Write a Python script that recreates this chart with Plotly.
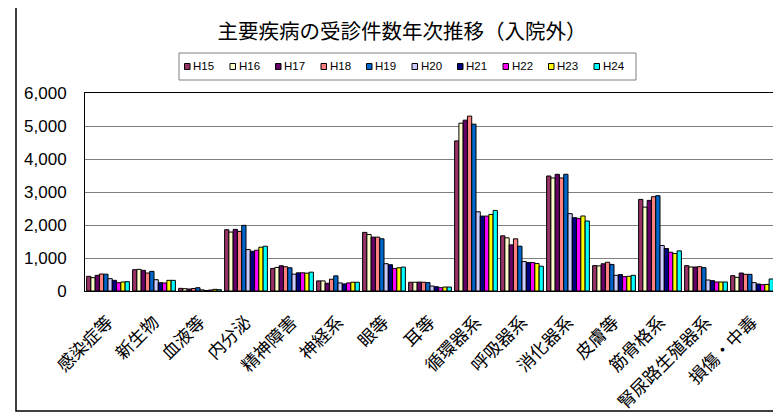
import plotly.graph_objects as go

categories = ["感染症等", "新生物", "血液等", "内分泌", "精神障害", "神経系", "眼等", "耳等",
              "循環器系", "呼吸器系", "消化器系", "皮膚等", "筋骨格系", "腎尿路生殖器系", "損傷・中毒"]

series_names = ["H15", "H16", "H17", "H18", "H19", "H20", "H21", "H22", "H23", "H24"]
series_colors = ["#993366", "#FFFFCC", "#660066", "#FF8080", "#0066CC",
                 "#CCCCFF", "#000080", "#FF00FF", "#FFFF00", "#00FFFF"]

H15 = [444, 646, 80, 1857, 684, 306, 1776, 265, 4549, 1672, 3485, 768, 2776, 768, 465]
H16 = [404, 656, 70, 1786, 714, 306, 1714, 265, 5086, 1611, 3425, 760, 2543, 727, 414]
H17 = [475, 626, 60, 1867, 765, 235, 1633, 270, 5177, 1398, 3536, 825, 2746, 727, 545]
H18 = [515, 545, 75, 1806, 735, 357, 1633, 265, 5299, 1581, 3425, 871, 2857, 737, 505]
H19 = [510, 596, 100, 1990, 704, 459, 1582, 255, 5056, 1358, 3536, 805, 2888, 707, 505]
H20 = [374, 343, 35, 1255, 510, 245, 827, 150, 2401, 892, 2343, 476, 1378, 333, 253]
H21 = [323, 252, 15, 1204, 551, 214, 796, 130, 2270, 861, 2222, 496, 1287, 313, 212]
H22 = [252, 242, 30, 1235, 551, 245, 684, 100, 2270, 861, 2200, 436, 1175, 273, 192]
H23 = [273, 323, 50, 1327, 541, 265, 704, 120, 2320, 831, 2273, 446, 1135, 273, 200]
H24 = [283, 323, 40, 1357, 571, 265, 724, 120, 2442, 750, 2121, 476, 1216, 273, 364]

series_values = [H15, H16, H17, H18, H19, H20, H21, H22, H23, H24]

y_ticks = [0, 1000, 2000, 3000, 4000, 5000, 6000]

# page body margin offset (8px) compensation
OFF = 8
W, H = 781 - OFF, 415 - OFF
ML, MR, MT, MB = 85 - OFF, 6, 93 - OFF, 124
PW, PH = W - ML - MR, H - MT - MB


def px(x):
    return (x - OFF - ML) / PW


def py(y):
    return (H - MB - (y - OFF)) / PH


fig = go.Figure()
for name, color, vals in zip(series_names, series_colors, series_values):
    fig.add_trace(go.Bar(name=name, x=categories, y=vals,
                         marker=dict(color=color, line=dict(color="black", width=1))))

shapes = []
annotations = []
# outer chart frame
shapes.append(dict(type="rect", xref="paper", yref="paper",
                   x0=px(16), x1=px(779.5), y0=py(411), y1=py(6),
                   line=dict(color="black", width=1.5), fillcolor="rgba(0,0,0,0)", layer="below"))
# legend box
shapes.append(dict(type="rect", xref="paper", yref="paper",
                   x0=px(179), x1=px(636), y0=py(80), y1=py(53),
                   line=dict(color="#808080", width=1), fillcolor="white"))
pitch = 45.5
for i, (name, color) in enumerate(zip(series_names, series_colors)):
    sx = 184.5 + i * pitch
    shapes.append(dict(type="rect", xref="paper", yref="paper",
                       x0=px(sx), x1=px(sx + 5.5), y0=py(69.5), y1=py(63.5),
                       line=dict(color="black", width=1), fillcolor=color))
    annotations.append(dict(xref="paper", yref="paper", x=px(sx + 6.5), y=py(66.5),
                            xanchor="left", yanchor="middle", showarrow=False, text=name,
                            font=dict(family="Liberation Sans, Arial", size=11.5, color="black")))

fig.update_layout(
    width=W, height=H,
    margin=dict(l=ML, r=MR, t=MT, b=MB),
    paper_bgcolor="white", plot_bgcolor="white",
    barmode="group", bargap=0.07, bargroupgap=0,
    showlegend=False,
    title=dict(text="主要疾病の受診件数年次推移（入院外）", x=(402 - OFF) / W, xanchor="center",
               y=1 - (32 - OFF) / H, yanchor="middle", yref="container",
               font=dict(family="Noto Sans CJK JP", size=20.5, color="black")),
    shapes=shapes, annotations=annotations,
)
fig.update_xaxes(showline=True, linecolor="black", linewidth=1, mirror=True,
                 tickangle=-45, tickfont=dict(family="Noto Sans CJK JP", size=17.5, color="black"),
                 ticks="", showgrid=False, ticklabelstandoff=13, automargin=False)
fig.update_yaxes(range=[0, 6000], tickvals=y_ticks, tickformat=",",
                 showline=True, linecolor="black", linewidth=1, mirror=True,
                 showgrid=True, gridcolor="#808080", gridwidth=1,
                 ticks="outside", ticklen=14, tickcolor="rgba(0,0,0,0)",
                 tickfont=dict(family="Liberation Sans, Arial", size=17, color="black"),
                 zeroline=False, automargin=False)

fig.write_html("out.html")
